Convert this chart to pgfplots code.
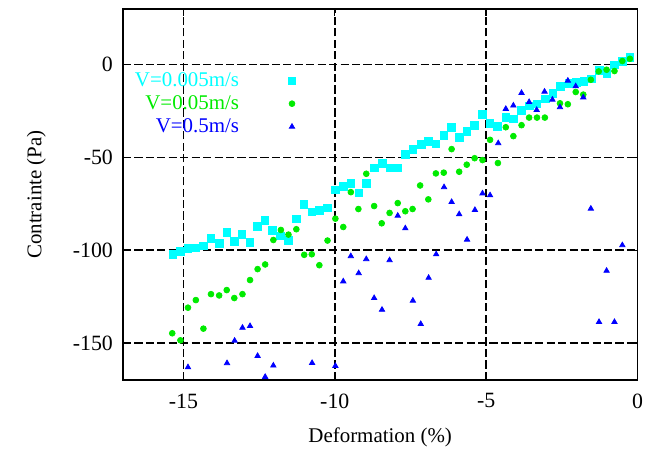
\documentclass[border=0pt]{standalone}
\usepackage{fontspec}
\setmainfont{Liberation Serif}
\usepackage{pgfplots}
\pgfplotsset{compat=1.18}
\definecolor{cc}{RGB}{0,255,255}
\definecolor{gg}{RGB}{0,235,0}
\definecolor{bb}{RGB}{0,0,255}
\begin{document}
\begin{tikzpicture}
\begin{axis}[
  width=283pt, height=204pt,
  scale only axis,
  xmin=-17, xmax=0,
  ymin=-170, ymax=30,
  xtick={-15,-10,-5,0},
  ytick={-150,-100,-50,0},
  /pgf/number format/assume math mode=true,
  axis line style={line width=0.8pt},
  major tick length=4pt,
  tick style={black, line width=0.7pt},
  grid=major,
  major grid style={black, line width=0.8pt, dash pattern=on 4.5pt off 1.8pt},
  xlabel={Deformation (\%)},
  ylabel={Contrainte (Pa)},
  ylabel style={yshift=8pt},
  xlabel style={yshift=-4pt},
  xticklabel style={yshift=-4pt},
  yticklabel style={xshift=-2pt},
  legend style={draw=none, fill=none, at={(0.005,0.85)}, anchor=north west,
    row sep=-0.5pt, column sep=25pt, font=\fontsize{11.5}{13}\selectfont},
  legend cell align=right,
  legend plot pos=right,
  tick label style={font=\fontsize{12}{14}\selectfont},
  label style={font=\fontsize{11.5}{13}\selectfont},
]
\addplot[only marks, mark=square*, mark size=2.1pt, color=cc] coordinates {
(-15.35,-102.2) (-15.10,-100.5) (-14.85,-99.1) (-14.60,-98.7) (-14.34,-97.7)
(-14.09,-93.7) (-13.82,-96.2) (-13.57,-90.5) (-13.32,-95.2) (-13.07,-91.4)
(-12.80,-95.7) (-12.56,-87.3) (-12.31,-83.9) (-12.06,-89.2) (-11.79,-92.3)
(-11.54,-94.8) (-11.27,-83.2) (-11.02,-75.3) (-10.76,-79.4) (-10.51,-78.5)
(-10.25,-77.2) (-9.99,-67.4) (-9.72,-65.6) (-9.47,-63.8) (-9.21,-69.0)
(-8.96,-63.8) (-8.70,-55.7) (-8.43,-53.2) (-8.18,-55.7) (-7.92,-55.7)
(-7.67,-48.2) (-7.42,-45.7) (-7.15,-43.0) (-6.90,-41.2) (-6.66,-42.7)
(-6.40,-38.0) (-6.15,-33.9) (-5.89,-39.1) (-5.64,-35.8) (-5.38,-32.6)
(-5.12,-26.9) (-4.88,-31.7) (-4.62,-33.2) (-4.35,-28.5) (-4.09,-29.2)
(-3.83,-24.7) (-3.58,-22.2) (-3.32,-21.1) (-3.05,-18.4) (-2.80,-15.4)
(-2.54,-11.8) (-2.27,-10.0) (-2.02,-9.5) (-1.77,-9.1) (-1.53,-7.7)
(-1.26,-3.2) (-1.01,-4.7) (-0.76,0.0) (-0.50,1.8) (-0.25,3.9)
};
\addlegendentry[text=cc]{V=0.005m/s}
\addplot[only marks, mark=*, mark size=1.6pt, color=gg] coordinates {
(-15.37,-144.8) (-15.10,-148.6) (-14.85,-131.0) (-14.59,-126.9) (-14.34,-142.3)
(-14.09,-123.7) (-13.82,-124.4) (-13.57,-121.5) (-13.32,-125.8) (-13.05,-123.7)
(-12.80,-116.1) (-12.55,-110.2) (-12.30,-107.7) (-12.03,-94.5) (-11.78,-89.1)
(-11.53,-91.6) (-11.27,-88.7) (-11.01,-102.5) (-10.76,-102.2) (-10.51,-108.1)
(-10.24,-94.8) (-9.98,-83.0) (-9.72,-87.5) (-9.47,-68.7) (-9.22,-77.8)
(-8.96,-58.8) (-8.70,-76.2) (-8.45,-85.5) (-8.19,-79.9) (-7.92,-74.6)
(-7.67,-79.0) (-7.43,-77.8) (-7.18,-65.1) (-6.91,-72.6) (-6.66,-58.6)
(-6.40,-58.2) (-6.14,-45.5) (-5.89,-57.7) (-5.64,-53.9) (-5.38,-50.4)
(-5.12,-51.4) (-4.87,-40.5) (-4.61,-53.0) (-4.35,-33.7) (-4.10,-38.5)
(-3.83,-32.6) (-3.58,-28.5) (-3.32,-28.5) (-3.06,-28.5) (-2.56,-20.8)
(-2.30,-21.3) (-2.04,-14.7) (-1.79,-16.1) (-1.54,-8.1) (-1.28,-3.6)
(-1.02,-2.7) (-0.76,-3.4) (-0.50,2.0) (-0.25,3.2)
};
\addlegendentry[text=gg]{V=0.05m/s}
\addplot[only marks, mark=triangle*, mark size=1.7pt, color=bb] coordinates {
(-14.85,-163.1) (-13.56,-160.9) (-13.31,-148.8) (-13.05,-141.8) (-12.80,-140.9)
(-12.55,-157.0) (-12.30,-168.3) (-12.03,-162.2) (-10.75,-160.8) (-9.98,-162.4)
(-9.72,-116.8) (-9.47,-103.2) (-9.21,-112.4) (-8.96,-104.8) (-8.70,-125.8)
(-8.44,-132.1) (-8.19,-105.4) (-7.92,-81.4) (-7.67,-88.2) (-7.42,-127.2)
(-7.16,-139.8) (-6.90,-114.9) (-6.65,-102.2) (-6.39,-66.0) (-6.14,-74.0)
(-5.89,-80.6) (-5.63,-94.3) (-5.37,-78.3) (-5.12,-69.4) (-4.87,-70.4)
(-4.60,-42.3) (-4.35,-23.8) (-4.10,-22.0) (-3.83,-15.2) (-3.58,-20.1)
(-3.33,-24.4) (-3.07,-14.5) (-2.81,-18.8) (-2.56,-22.9) (-2.30,-8.6)
(-2.04,-11.6) (-1.79,-17.6) (-1.54,-77.6) (-1.27,-138.7) (-1.02,-111.1)
(-0.76,-138.7) (-0.50,-97.3)
};
\addlegendentry[text=bb]{V=0.5m/s}
\end{axis}
\pgfresetboundingbox
\path (current axis.south west) ++(-67.6pt,-37.9pt) rectangle ++(357.5pt,246.9pt);
\end{tikzpicture}
\end{document}
